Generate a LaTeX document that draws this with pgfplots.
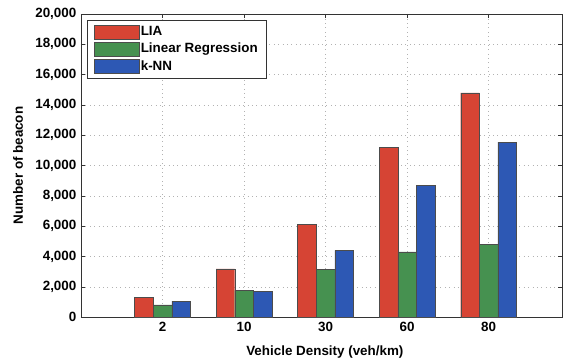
\documentclass[border=0pt]{standalone}
\usepackage{pgfplots}
\pgfplotsset{compat=1.18}
\usepackage{fontspec}
\setmainfont{Liberation Sans}
\definecolor{cred}{RGB}{214,68,52}
\definecolor{cgreen}{RGB}{70,145,80}
\definecolor{cblue}{RGB}{45,88,180}
\pgfplotsset{ybar legend/.style={legend image code/.code={\draw[##1,/tikz/.cd,bar shift=0pt] (0bp,-7bp) rectangle (45bp,7bp);}}}
\begin{document}
\fontsize{13.4bp}{16bp}\selectfont\bfseries
\begin{tikzpicture}
\path[use as bounding box] (-81bp,-44bp) rectangle (482bp,317bp);
\begin{axis}[
  scale only axis,
  width=481bp, height=303bp,
  xmin=0, xmax=5.9,
  ymin=0, ymax=20000,
  ytick={0,2000,...,20000},
  xtick={1,2,3,4,5},
  xticklabels={2,10,30,60,80},
  scaled y ticks=false,
  /pgf/number format/.cd, 1000 sep={,}, assume math mode=true, /pgfplots/.cd,
  ybar=0pt,
  bar width=18.6bp,
  tick align=inside,
  major tick length=4bp,
  axis line style={black!80},
  every tick/.style={black!80},
  grid=major,
  major grid style={loosely dotted, black!30},
  ylabel={Number of beacon},
  xlabel={Vehicle Density (veh/km)},
  ylabel style={at={(axis description cs:-0.131,0.5)}, anchor=center},
  xlabel style={at={(axis description cs:0.507,0)}, anchor=center, yshift=-35bp},
  legend style={at={(axis description cs:0.0125,0.98)}, anchor=north west,
    draw=black!80, inner xsep=7bp, inner ysep=4.5bp, row sep=2bp,
    nodes={inner xsep=1.2bp, inner ysep=1.75bp},
    font=\fontsize{13.4bp}{16bp}\selectfont\bfseries,
    /tikz/every even column/.append style={column sep=0.6bp}},
  legend cell align=left,
]
\addplot[fill=cred, draw=black!70] coordinates {(1,1300) (2,3170) (3,6100) (4,11200) (5,14800)};
\addplot[fill=cgreen, draw=black!70] coordinates {(1,800) (2,1750) (3,3150) (4,4300) (5,4800)};
\addplot[fill=cblue, draw=black!70] coordinates {(1,1050) (2,1700) (3,4400) (4,8700) (5,11550)};
\legend{LIA, Linear Regression, k-NN}
\end{axis}
\end{tikzpicture}
\end{document}
